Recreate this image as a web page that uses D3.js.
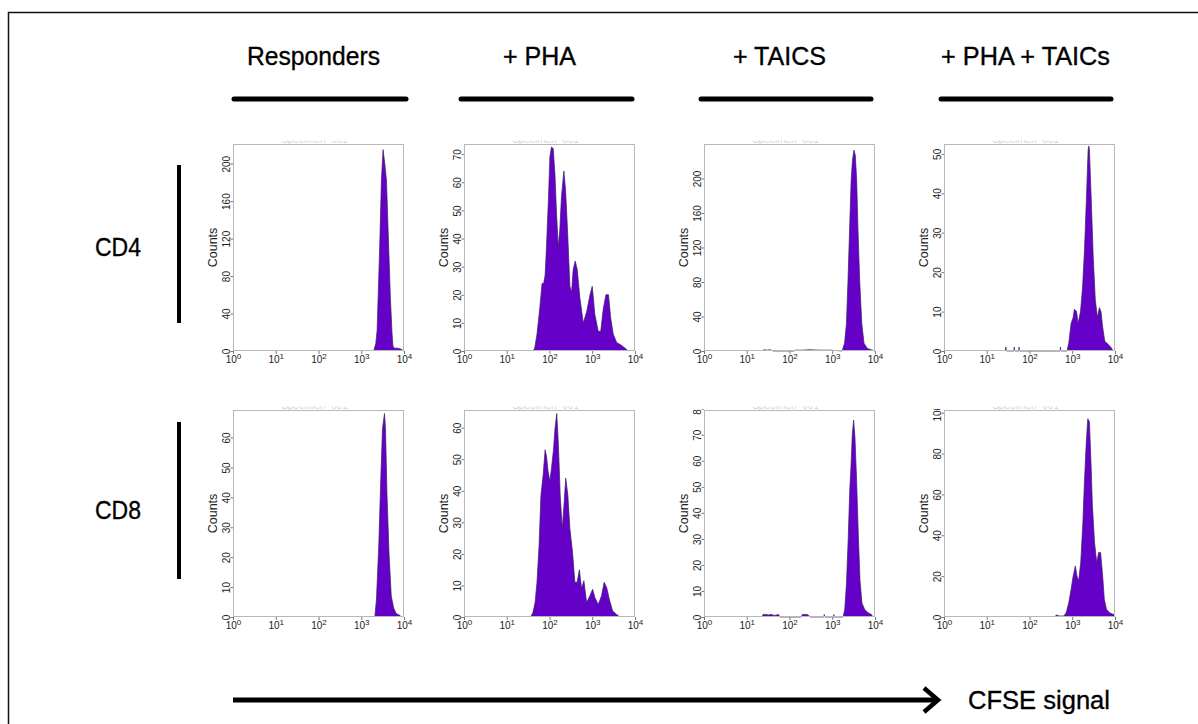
<!DOCTYPE html>
<html>
<head>
<meta charset="utf-8">
<script src="https://cdn.jsdelivr.net/npm/d3@7"></script>
<style>
  body { margin: 0; background: #fff; }
  svg { display: block; }
</style>
</head>
<body>
<svg id="chart"></svg>
<script>
// column headers, row labels, axis ticks
const conditions = ["Responders", "+ PHA", "+ TAICS", "+ PHA + TAICs"];
const subsets = ["CD4", "CD8"];
const xTicks = [1, 10, 100, 1000, 10000];

// y axis top (counts) and tick labels for each panel
const cd4YMax = [221, 73.6, 240, 52.5];
const cd8YMax = [69.2, 65.6, 79.5, 101.3];
const cd4YTicks = [
    [0, 40, 80, 120, 160, 200],
    [0, 10, 20, 30, 40, 50, 60, 70],
    [0, 40, 80, 120, 160, 200],
    [0, 10, 20, 30, 40, 50]
];
const cd8YTicks = [
    [0, 10, 20, 30, 40, 50, 60],
    [0, 10, 20, 30, 40, 50, 60],
    [0, 10, 20, 30, 40, 50, 60, 70, 80],
    [0, 20, 40, 60, 80, 100]
];

// histograms: [CFSE intensity, counts]
const cd4Responders = [[1950,0],[2190,8],[2350,22],[2700,111],[2960,182],[3240,215],[3550,200],[3890,182],[4250,129],[4790,58],[5250,19],[5520,5],[6000,3],[7240,3],[8500,2],[9120,1],[10000,0]];
const cd4Pha = [[41,0],[45,1],[51,6],[59,15],[67,24],[73,24],[79,27],[85,37],[95,55],[102,69],[111,72.5],[122,72],[134,63],[146,49],[160,37],[174,43],[191,55],[217,64],[238,57],[264,43],[300,23],[329,21],[358,29],[400,32],[445,29],[513,19],[616,10],[741,14],[888,20],[1000,23],[1150,13],[1380,7],[1580,7],[1810,15],[2090,20],[2400,20],[2690,12],[3100,6],[3720,3],[4870,2],[5860,1],[6960,0]];
const cd4Taics = [[24,0],[25,1.5],[30,1],[35,1.5],[42,0],[130,0],[135,1],[200,1],[300,1.5],[500,1],[900,1],[1300,0.5],[1700,0],[1940,9],[2150,32],[2350,86],[2570,148],[2770,198],[2970,221],[3220,233],[3460,227],[3730,198],[4000,140],[4380,82],[4910,32],[5530,9],[6620,3],[8700,1],[10000,0]];
const cd4PhaTaics = [[27,0],[28,1],[29,0],[43,0],[44,1],[45,0],[56,0],[57,1],[58,0],[520,0],[530,1],[540,0],[755,0],[830,2],[940,7],[1050,8.5],[1120,10.6],[1260,10],[1370,7],[1560,10],[1740,16],[1940,26],[2150,39],[2350,51],[2450,52],[2520,51],[2770,39],[3090,24],[3460,13],[3880,8.5],[4300,11],[4700,10],[5150,6],[5760,2.5],[6900,1.7],[8200,0.8],[9000,0]];
const cd8Responders = [[2080,0],[2270,6],[2570,24],[2860,46],[3140,63],[3500,68],[3690,63],[4000,41],[4470,21],[5040,7],[5720,3],[6620,1.1],[7940,0.6],[8500,0]];
const cd8Pha = [[36,0],[41,1.4],[46,4.6],[51,11],[57,22.6],[63,38.5],[71,45],[79,53],[85,51],[93,46],[102,43],[111,47],[124,53],[135,60],[148,64.5],[162,54],[178,38.5],[199,28],[217,35],[240,44],[269,38.5],[300,28],[346,20.5],[392,11],[443,11],[500,15],[562,9],[638,11.5],[737,4.6],[882,6.7],[1020,8.8],[1150,6.2],[1380,4],[1650,6.7],[1900,11],[2180,9.3],[2510,5.6],[3000,1.9],[3720,0.8],[4470,0]];
const cd8Taics = [[23,0],[24,1],[27,1],[32,0.8],[37,1],[45,0.6],[55,1],[60,0],[190,0],[200,1],[260,1],[310,0],[640,0],[650,1],[670,0],[1080,0],[1090,1],[1100,0],[1790,0],[1960,2.9],[2150,12.8],[2360,30],[2570,49],[2740,57.6],[2940,70],[3160,75.6],[3400,68.8],[3730,51.4],[4100,30],[4460,14],[4960,5.3],[5740,2.9],[6880,1.6],[8200,1],[9000,0]];
const cd8PhaTaics = [[400,0],[420,1],[500,0.5],[630,0.5],[720,2],[830,7],[940,13.6],[1050,20],[1180,25],[1290,20],[1410,17.7],[1580,26.7],[1770,46],[1940,67.7],[2130,85.7],[2310,97],[2520,95.6],[2740,76],[2960,54.6],[3320,36.6],[3730,26.7],[4150,31.6],[4600,31.6],[5150,20],[5620,8.7],[6300,3.8],[7540,2],[9200,1.3],[10000,0]];

const histograms = [
    [cd4Responders, cd4Pha, cd4Taics, cd4PhaTaics],
    [cd8Responders, cd8Pha, cd8Taics, cd8PhaTaics]
];
const yMaxes = [cd4YMax, cd8YMax];
const yTicks = [cd4YTicks, cd8YTicks];

const W = 1198, H = 724;
const headFont = "'Liberation Sans Narrow', 'Arial Narrow', 'Liberation Sans', Arial, sans-serif";
const tickFont = "'Liberation Sans', Arial, Helvetica, sans-serif";

const svg = d3.select("#chart").attr("width", W).attr("height", H);
svg.append("rect").attr("width", W).attr("height", H).attr("fill", "#fff");

// outer frame (only top and left edges are in the picture)
svg.append("path")
    .attr("d", "M8.5,730 L8.5,12.5 L1200,12.5")
    .attr("fill", "none")
    .attr("stroke", "#111")
    .attr("stroke-width", 1.5);

// layout
const panelLeft = [233, 464, 704, 944];
const panelTop = [144, 410];
const pw = 171, ph = 207;

const headerX = [313.5, 539.5, 779.5, 1025.5];
const headerW = [133, 73, 93, 169];
const underline = [[234, 406], [461, 632], [701, 871], [941, 1111]];

function bigText(sel) {
    return sel
        .attr("lengthAdjust", "spacingAndGlyphs")
        .attr("fill", "#000")
        .attr("stroke", "#000")
        .attr("stroke-width", 0.35)
        .style("font-family", headFont)
        .style("font-size", "26px");
}

conditions.forEach((c, i) => {
    svg.append("text")
        .attr("x", headerX[i])
        .attr("y", 65)
        .attr("text-anchor", "middle")
        .attr("textLength", headerW[i])
        .call(bigText)
        .text(c);

    svg.append("line")
        .attr("x1", underline[i][0])
        .attr("x2", underline[i][1])
        .attr("y1", 99).attr("y2", 99)
        .attr("stroke", "#000")
        .attr("stroke-width", 5)
        .attr("stroke-linecap", "round");
});

const rowBars = [[165, 323], [422, 579]];
const rowLabelY = [256, 519];
subsets.forEach((s, r) => {
    svg.append("text")
        .attr("x", 118)
        .attr("y", rowLabelY[r])
        .attr("text-anchor", "middle")
        .attr("textLength", 46)
        .call(bigText)
        .text(s);

    svg.append("line")
        .attr("x1", 179).attr("x2", 179)
        .attr("y1", rowBars[r][0]).attr("y2", rowBars[r][1])
        .attr("stroke", "#000")
        .attr("stroke-width", 4);
});

const defs = svg.append("defs");

function clipRect(id, yTop) {
    defs.append("clipPath").attr("id", id)
        .append("rect").attr("x", -60).attr("y", yTop).attr("width", pw + 90).attr("height", ph + 40 - yTop);
    return `url(#${id})`;
}

function drawPanel(r, c) {
    const data = histograms[r][c];
    const x0 = panelLeft[c], y0 = panelTop[r];

    const x = d3.scaleLog().domain([1, 10000]).range([0, pw]);
    const y = d3.scaleLinear().domain([0, yMaxes[r][c]]).range([ph, 0]);

    const g = svg.append("g").attr("transform", `translate(${x0},${y0})`);

    // faint gate name, cut off at the top like the exported plot
    g.append("g").attr("clip-path", clipRect(`tclip-${r}-${c}`, -3.5))
        .append("text")
        .attr("x", pw / 2 - 4)
        .attr("y", -1)
        .attr("text-anchor", "middle")
        .style("font-family", tickFont)
        .style("font-size", "10px")
        .attr("fill", "#d2d2d2")
        .text("Specimen_001");

    const area = d3.area()
        .x(d => x(d[0]))
        .y0(y(0))
        .y1(d => y(d[1]));

    const line = d3.line()
        .x(d => x(d[0]))
        .y(d => y(d[1]));

    const plot = g.append("g").attr("clip-path", clipRect(`pclip-${r}-${c}`, 0));
    plot.append("path")
        .datum(data)
        .attr("d", area)
        .attr("fill", "#6400c8");
    plot.append("path")
        .datum(data)
        .attr("d", line)
        .attr("fill", "none")
        .attr("stroke", "#3a1f5e")
        .attr("stroke-width", 0.7);

    // plot box
    g.append("rect")
        .attr("x", 0.5).attr("y", 0.5)
        .attr("width", pw - 1).attr("height", ph - 1)
        .attr("fill", "none")
        .attr("stroke", "#b8b8b8");

    // x axis, log decades
    const xa = g.append("g")
        .attr("transform", `translate(0,${ph})`)
        .call(d3.axisBottom(x).tickValues(xTicks).tickSize(3).tickFormat(""));
    xa.select(".domain").remove();
    xa.selectAll(".tick line").attr("stroke", "#777");
    xa.selectAll(".tick").each(function(d) {
        const t = d3.select(this).append("text")
            .attr("y", 12)
            .attr("text-anchor", "middle")
            .attr("fill", "#222")
            .style("font-family", tickFont)
            .style("font-size", "10px");
        t.append("tspan").text("10");
        t.append("tspan")
            .attr("dy", -4)
            .style("font-size", "8px")
            .text(Math.round(Math.log10(d)));
    });

    // y axis with rotated labels, top label cut by the panel edge
    const ya = g.append("g")
        .attr("clip-path", clipRect(`yclip-${r}-${c}`, -1))
        .call(d3.axisLeft(y).tickValues(yTicks[r][c]).tickSize(2.5).tickFormat(""));
    ya.select(".domain").remove();
    ya.selectAll(".tick line").attr("stroke", "#777");
    ya.selectAll(".tick").append("text")
        .attr("transform", "rotate(-90)")
        .attr("x", 0)
        .attr("y", -3)
        .attr("text-anchor", "middle")
        .attr("fill", "#222")
        .style("font-family", tickFont)
        .style("font-size", "10px")
        .text(d => d);

    g.append("text")
        .attr("transform", `translate(-16.5,${ph / 2}) rotate(-90)`)
        .attr("text-anchor", "middle")
        .attr("fill", "#222")
        .style("font-family", tickFont)
        .style("font-size", "12.5px")
        .text("Counts");
}

for (let r = 0; r < 2; r++) {
    for (let c = 0; c < 4; c++) drawPanel(r, c);
}

// CFSE arrow
svg.append("line")
    .attr("x1", 233).attr("x2", 936)
    .attr("y1", 700).attr("y2", 700)
    .attr("stroke", "#000")
    .attr("stroke-width", 5);
svg.append("path")
    .attr("d", "M924,688 L938,700 L924,712")
    .attr("fill", "none")
    .attr("stroke", "#000")
    .attr("stroke-width", 4.5);
svg.append("text")
    .attr("x", 968)
    .attr("y", 709)
    .attr("textLength", 142)
    .call(bigText)
    .text("CFSE signal");
</script>
</body>
</html>
